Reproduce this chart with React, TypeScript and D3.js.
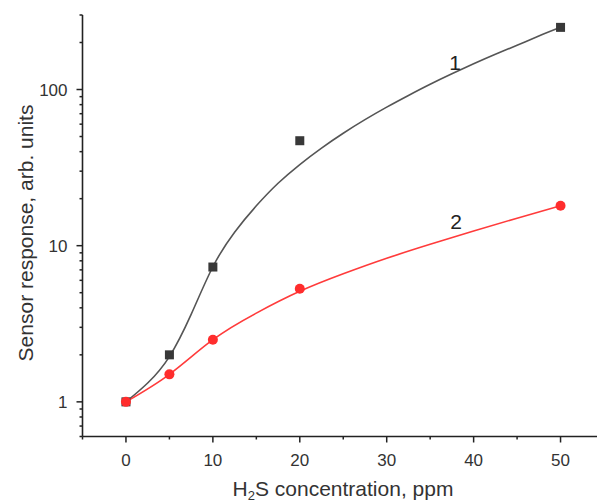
import React, { useRef, useEffect } from 'react';
import * as d3 from 'd3';

// measured points
const concX = [0, 5, 10, 20, 50];
const response1 = [1, 2, 7.3, 47, 250];
const response2 = [1, 1.5, 2.5, 5.3, 18];

// fitted curves
const fit1X = [0, 2.5, 5, 7.5, 10, 12.5, 15, 17.5, 20, 22.5, 25, 27.5, 30, 32.5, 35, 37.5, 40, 42.5, 45, 47.5, 50];
const fit1Y = [1, 1.32, 1.95, 3.63, 7.33, 12.2, 18, 25.1, 33.1, 42.2, 52.5, 64.1, 77.1, 91.6, 108, 126, 146, 168, 192, 220, 250];
const fit2X = [0, 5, 10, 15, 20, 25, 30, 35, 40, 45, 50];
const fit2Y = [1, 1.5, 2.5, 3.7, 5.1, 6.6, 8.3, 10.2, 12.4, 15, 18];

const xTicks = [0, 10, 20, 30, 40, 50];
const xMinor = [-5, 5, 15, 25, 35, 45, 55];
const yTicks = [1, 10, 100];
const yMinor = [0.6, 0.7, 0.8, 0.9, 2, 3, 4, 5, 6, 7, 8, 9, 20, 30, 40, 50, 60, 70, 80, 90, 200, 300];

const W = 597;
const H = 502;

function App() {
    const ref = useRef(null);

    useEffect(() => {
        const svg = d3.select(ref.current);
        svg.selectAll('*').remove();

        const x = d3.scaleLinear().domain([-5, 55]).range([82.5, 604]);
        const y = d3.scaleLog().domain([0.6, 300]).range([436.5, 15]);
        const font = 'Liberation Sans, Arial, sans-serif';
        const axisColor = '#222';

        // axes
        svg.append('line')
            .attr('x1', x(-5)).attr('x2', x(-5))
            .attr('y1', y(300)).attr('y2', y(0.6))
            .attr('stroke', axisColor).attr('stroke-width', 1.6);
        svg.append('line')
            .attr('x1', x(-5)).attr('x2', W)
            .attr('y1', y(0.6)).attr('y2', y(0.6))
            .attr('stroke', axisColor).attr('stroke-width', 1.6);

        svg.selectAll('.xmaj').data(xTicks).enter().append('line')
            .attr('x1', d => x(d)).attr('x2', d => x(d))
            .attr('y1', y(0.6)).attr('y2', y(0.6) + 6)
            .attr('stroke', axisColor).attr('stroke-width', 1.5);
        svg.selectAll('.xmin').data(xMinor).enter().append('line')
            .attr('x1', d => x(d)).attr('x2', d => x(d))
            .attr('y1', y(0.6)).attr('y2', y(0.6) + 3)
            .attr('stroke', axisColor).attr('stroke-width', 1.5);
        svg.selectAll('.xlab').data(xTicks).enter().append('text')
            .attr('x', d => x(d)).attr('y', 466)
            .attr('text-anchor', 'middle')
            .style('font-family', font).style('font-size', '17px').attr('fill', '#333')
            .text(d => d);

        svg.selectAll('.ymaj').data(yTicks).enter().append('line')
            .attr('x1', x(-5) - 6).attr('x2', x(-5))
            .attr('y1', d => y(d)).attr('y2', d => y(d))
            .attr('stroke', axisColor).attr('stroke-width', 1.5);
        svg.selectAll('.ymin').data(yMinor).enter().append('line')
            .attr('x1', x(-5) - 3).attr('x2', x(-5))
            .attr('y1', d => y(d)).attr('y2', d => y(d))
            .attr('stroke', axisColor).attr('stroke-width', 1.5);
        svg.selectAll('.ylab').data(yTicks).enter().append('text')
            .attr('x', x(-5) - 15).attr('y', d => y(d) + 6)
            .attr('text-anchor', 'end')
            .style('font-family', font).style('font-size', '17px').attr('fill', '#333')
            .text(d => d);

        // curves
        const line = d3.line()
            .x(d => x(d[0]))
            .y(d => y(d[1]))
            .curve(d3.curveNatural);

        svg.append('path')
            .attr('d', line(fit1X.map((v, i) => [v, fit1Y[i]])))
            .attr('fill', 'none').attr('stroke', '#555').attr('stroke-width', 1.6);
        svg.append('path')
            .attr('d', line(fit2X.map((v, i) => [v, fit2Y[i]])))
            .attr('fill', 'none').attr('stroke', '#ff3b3b').attr('stroke-width', 1.6);

        // markers
        svg.selectAll('.sq').data(concX).enter().append('rect')
            .attr('x', d => x(d) - 4.5)
            .attr('y', (d, i) => y(response1[i]) - 4.5)
            .attr('width', 9).attr('height', 9)
            .attr('fill', '#383838');
        svg.selectAll('.dot').data(concX).enter().append('circle')
            .attr('cx', d => x(d))
            .attr('cy', (d, i) => y(response2[i]))
            .attr('r', 5)
            .attr('fill', '#ff2d2d');

        // curve labels
        svg.append('text')
            .attr('x', 455).attr('y', 70)
            .attr('text-anchor', 'middle')
            .style('font-family', font).style('font-size', '21px').attr('fill', '#222')
            .text('1');
        svg.append('text')
            .attr('x', 456).attr('y', 229)
            .attr('text-anchor', 'middle')
            .style('font-family', font).style('font-size', '21px').attr('fill', '#222')
            .text('2');

        // axis titles
        const xt = svg.append('text')
            .attr('x', 343).attr('y', 496)
            .attr('text-anchor', 'middle')
            .style('font-family', font).style('font-size', '21px').attr('fill', '#333');
        xt.append('tspan').text('H');
        xt.append('tspan').attr('dy', 4).style('font-size', '13px').text('2');
        xt.append('tspan').attr('dy', -4).text('S concentration, ppm');

        svg.append('text')
            .attr('transform', 'translate(33,233) rotate(-90)')
            .attr('text-anchor', 'middle')
            .style('font-family', font).style('font-size', '21px').attr('fill', '#333')
            .text('Sensor response, arb. units');
    }, []);

    return (
        <svg ref={ref} width={W} height={H}
            style={{ position: 'absolute', left: 0, top: 0, background: '#fff' }} />
    );
}

export default App;
